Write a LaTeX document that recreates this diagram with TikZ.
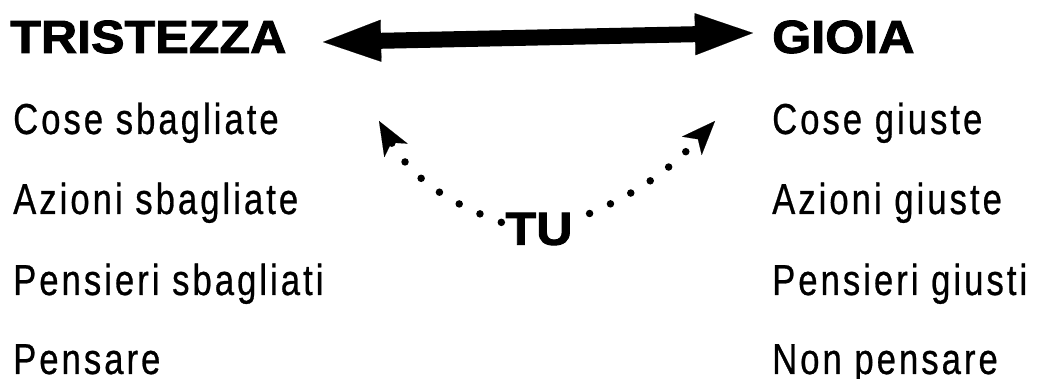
\documentclass[tikz,border=0pt]{standalone}
\usepackage{fontspec}
\usetikzlibrary{arrows.meta}
\newfontfamily\regfont{Liberation Sans}[FakeStretch=0.8,LetterSpace=7,FakeBold=0.6]
\newfontfamily\heavyfont{Liberation Sans}[FakeStretch=1.08,FakeBold=2]
\tikzset{
  title/.style={anchor=base west,inner sep=0pt,font=\heavyfont\bfseries\fontsize{46.5}{50}\selectfont},
  item/.style={anchor=base west,inner sep=0pt,font=\regfont\fontsize{43.3}{50}\selectfont},
  bigarrow/.style={line width=16pt,{Triangle[length=58pt,width=42pt,line width=0.1pt]}-{Triangle[length=58pt,width=42pt,line width=0.1pt]}},
  dotarrow/.style={line width=7.5pt,line cap=round,dash pattern=on 0pt off 23pt,-{Stealth[length=34pt,width=27pt,inset=9pt,line width=0.1pt]}}
}
\begin{document}
\begin{tikzpicture}[x=1pt,y=1pt]
\useasboundingbox (0,0) rectangle (1043,379);
\node[title] (tristezza) at (10,326) {TRISTEZZA};
\node[title] (gioia) at (772,326) {GIOIA};
\node[title,inner sep=4pt,anchor=center] (tu) at (539,150) {TU};

\node[item] (l1) at (13,245) {Cose sbagliate};
\node[item] (l2) at (13,165) {Azioni sbagliate};
\node[item] (l3) at (13,84) {Pensieri sbagliati};
\node[item] (l4) at (13,5) {Pensare};

\node[item] (r1) at (772,245) {Cose giuste};
\node[item] (r2) at (772,165) {Azioni giuste};
\node[item] (r3) at (772,84) {Pensieri giusti};
\node[item] (r4) at (772,5) {Non pensare};

\coordinate (aL) at (323,337);
\coordinate (aR) at (753,346);
\draw[bigarrow] (aL) -- (aR);

\coordinate (tl) at (379,258);
\coordinate (tr) at (715,258);
\draw[dotarrow] (tu.170) to[out=160,in=-60] (tl);
\draw[dotarrow,dash phase=9pt] (tu.15) to[out=22,in=-133] (tr);
\end{tikzpicture}
\end{document}
